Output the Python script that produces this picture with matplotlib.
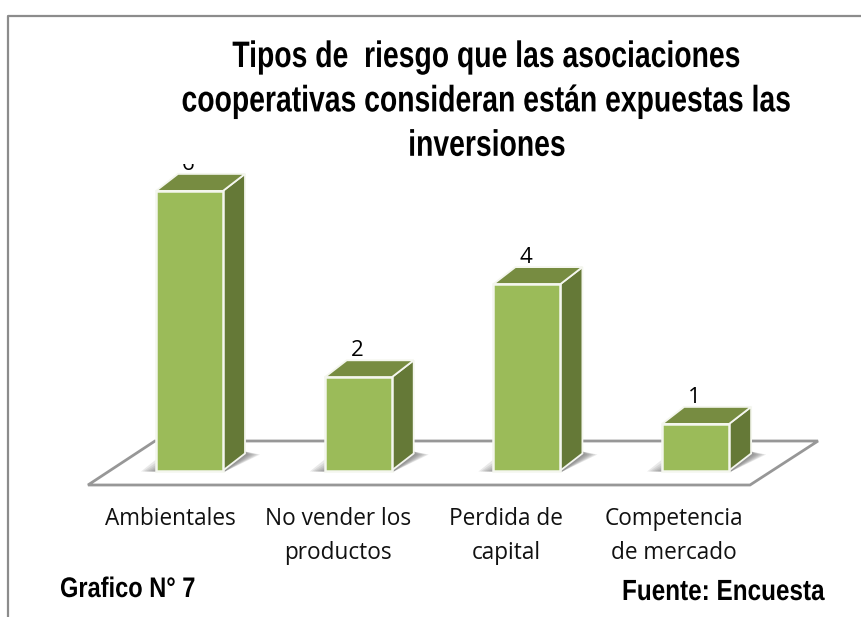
import matplotlib
matplotlib.use("Agg")
import matplotlib.pyplot as plt
from matplotlib.patches import Polygon
from matplotlib.patheffects import AbstractPathEffect
from matplotlib.transforms import Affine2D

categories = ["Ambientales", "No vender los\nproductos", "Perdida de\ncapital", "Competencia\nde mercado"]
values = [6, 2, 4, 1]

title = "Tipos de  riesgo que las asociaciones\ncooperativas consideran están expuestas las\ninversiones"

# pixel layout of the fake 3d chart
x0 = 156
step = 168.7
bar_w = 67
base_y = 470.5
unit = 46.6
dx = 22
dy = 17

front_col = "#9BBB59"
top_col = "#778C41"
side_col = "#657937"
edge_col = "#F4F6EE"


class TallText(AbstractPathEffect):
    # the original text is a narrow bold face, stretch glyphs upward from the baseline
    def __init__(self, sy):
        super().__init__()
        self.sy = sy

    def draw_path(self, renderer, gc, tpath, affine, rgbFace=None):
        renderer.draw_path(gc, tpath, Affine2D().scale(1, self.sy) + affine, rgbFace)


fig = plt.figure(figsize=(8.62, 6.17), dpi=100)
ax = fig.add_axes([0, 0, 1, 1])
ax.set_xlim(0, 862)
ax.set_ylim(617, 0)
ax.axis("off")

# outer frame, only top and left are visible
ax.plot([8.5, 8.5, 862], [617, 16, 16], color="#8C8C8C", lw=1.6)

# floor
ax.add_patch(Polygon([(88, 485), (155, 441), (818, 441), (750, 485)], closed=True,
                     fill=False, edgecolor="#979797", lw=2))

for i, v in enumerate(values):
    x = x0 + i * step
    h = v * unit
    top = base_y - h

    # shadow on the floor
    for k in range(8):
        ax.add_patch(Polygon([(x - 15 + k * 2, base_y + 1), (x + bar_w + 2, base_y + 1),
                              (x + bar_w + dx + 15 - k * 2, base_y - dy + 1), (x + bar_w + dx, base_y - dy - 2),
                              (x + 3 * k, base_y - 11 + k)],
                             closed=True, fc="#6E6E6E", ec="none", alpha=0.15))

    ax.add_patch(Polygon([(x + bar_w, top), (x + bar_w + dx, top - dy),
                          (x + bar_w + dx, base_y - dy), (x + bar_w, base_y)],
                         closed=True, fc=side_col, ec=edge_col, lw=1.3))
    ax.add_patch(Polygon([(x, top), (x + dx, top - dy), (x + bar_w + dx, top - dy), (x + bar_w, top)],
                         closed=True, fc=top_col, ec=edge_col, lw=1.3))
    ax.add_patch(Polygon([(x, top), (x + bar_w, top), (x + bar_w, base_y), (x, base_y)],
                         closed=True, fc=front_col, ec=edge_col, lw=1.8))

    ax.text(x + bar_w / 2 - 1, top - dy + 1, str(v), ha="center", va="bottom",
            fontsize=16, family="Open Sans", color="black", zorder=3)
    ax.text(170 + i * 168, 507, categories[i], ha="center", va="top", fontsize=16.3,
            family="Open Sans", color="#111111", linespacing=1.55)

# title sits over the first bar's label
t = ax.text(487, 47, title, ha="center", va="top", fontsize=20.4, fontweight="bold",
            family="Liberation Sans", linespacing=1.92, zorder=5,
            bbox=dict(fc="white", ec="none", pad=1.5))
t.set_path_effects([TallText(1.3)])

t = ax.text(60, 597, "Grafico N° 7", ha="left", va="baseline", fontsize=17, fontweight="bold",
            family="Liberation Sans")
t.set_path_effects([TallText(1.2)])
t = ax.text(825, 600, "Fuente: Encuesta", ha="right", va="baseline", fontsize=17.5, fontweight="bold",
            family="Liberation Sans")
t.set_path_effects([TallText(1.2)])

fig.savefig("out.png", dpi=100)
